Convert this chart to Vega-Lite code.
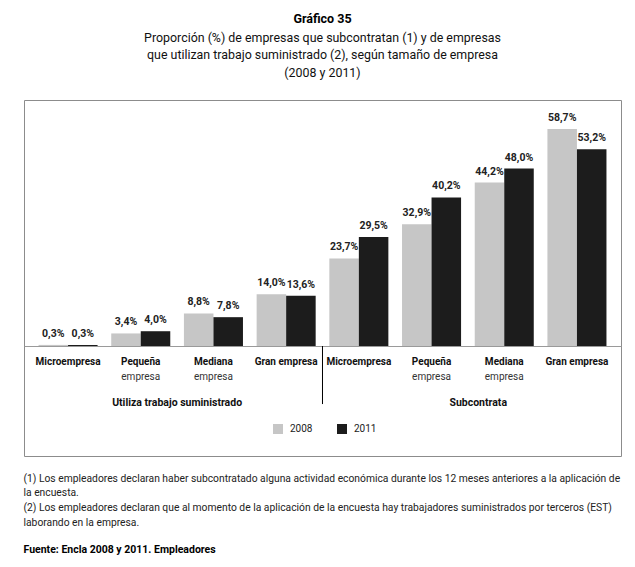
{
  "$schema": "https://vega.github.io/schema/vega-lite/v6.json",
  "padding": {"left": 23, "top": 12, "right": 12, "bottom": 4},
  "background": "white",
  "config": {
    "font": "Roboto, sans-serif",
    "locale": {"number": {"decimal": ",", "thousands": ".", "grouping": [3], "currency": ["$", ""]}},
    "view": {"stroke": "#8c8c8c", "strokeWidth": 1},
    "axis": {"labelFont": "Roboto, sans-serif"},
    "legend": {"labelFont": "Roboto, sans-serif"},
    "title": {"font": "Roboto, sans-serif", "subtitleFont": "Roboto, sans-serif"}
  },
  "title": {
    "text": [
      "(1) Los empleadores declaran haber subcontratado alguna actividad económica durante los 12 meses anteriores a la aplicación de",
      "la encuesta.",
      "(2) Los empleadores declaran que al momento de la aplicación de la encuesta hay trabajadores suministrados por terceros (EST)",
      "laborando en la empresa."
    ],
    "subtitle": "Fuente: Encla 2008 y 2011. Empleadores",
    "orient": "bottom",
    "anchor": "start",
    "offset": 17,
    "fontSize": 10.3,
    "fontWeight": "normal",
    "lineHeight": 14.7,
    "color": "#222222",
    "subtitleFontSize": 10.5,
    "subtitleFontWeight": "bold",
    "subtitleColor": "#000000",
    "subtitlePadding": 17
  },
  "vconcat": [
    {
      "width": 597,
      "height": 356,
      "title": {
        "text": "Gráfico 35",
        "subtitle": [
          "Proporción (%) de empresas que subcontratan (1) y de empresas",
          "que utilizan trabajo suministrado (2), según tamaño de empresa",
          "(2008 y 2011)"
        ],
        "anchor": "middle",
        "fontSize": 12.5,
        "fontWeight": "bold",
        "color": "#000000",
        "subtitleFontSize": 12.4,
        "subtitleLineHeight": 17.5,
        "subtitleColor": "#111111",
        "subtitlePadding": 6,
        "offset": 21
      },
      "data": {
        "values": [
          {"clave": "U1", "grupo": "Utiliza trabajo suministrado", "tamano": "Microempresa", "anio": "2008", "proporcion": 0.003},
          {"clave": "U1", "grupo": "Utiliza trabajo suministrado", "tamano": "Microempresa", "anio": "2011", "proporcion": 0.003},
          {"clave": "U2", "grupo": "Utiliza trabajo suministrado", "tamano": "Pequeña empresa", "anio": "2008", "proporcion": 0.034},
          {"clave": "U2", "grupo": "Utiliza trabajo suministrado", "tamano": "Pequeña empresa", "anio": "2011", "proporcion": 0.040},
          {"clave": "U3", "grupo": "Utiliza trabajo suministrado", "tamano": "Mediana empresa", "anio": "2008", "proporcion": 0.088},
          {"clave": "U3", "grupo": "Utiliza trabajo suministrado", "tamano": "Mediana empresa", "anio": "2011", "proporcion": 0.078},
          {"clave": "U4", "grupo": "Utiliza trabajo suministrado", "tamano": "Gran empresa", "anio": "2008", "proporcion": 0.140},
          {"clave": "U4", "grupo": "Utiliza trabajo suministrado", "tamano": "Gran empresa", "anio": "2011", "proporcion": 0.136},
          {"clave": "S1", "grupo": "Subcontrata", "tamano": "Microempresa", "anio": "2008", "proporcion": 0.237},
          {"clave": "S1", "grupo": "Subcontrata", "tamano": "Microempresa", "anio": "2011", "proporcion": 0.295},
          {"clave": "S2", "grupo": "Subcontrata", "tamano": "Pequeña empresa", "anio": "2008", "proporcion": 0.329},
          {"clave": "S2", "grupo": "Subcontrata", "tamano": "Pequeña empresa", "anio": "2011", "proporcion": 0.402},
          {"clave": "S3", "grupo": "Subcontrata", "tamano": "Mediana empresa", "anio": "2008", "proporcion": 0.442},
          {"clave": "S3", "grupo": "Subcontrata", "tamano": "Mediana empresa", "anio": "2011", "proporcion": 0.480},
          {"clave": "S4", "grupo": "Subcontrata", "tamano": "Gran empresa", "anio": "2008", "proporcion": 0.587},
          {"clave": "S4", "grupo": "Subcontrata", "tamano": "Gran empresa", "anio": "2011", "proporcion": 0.532}
        ]
      },
      "layer": [
        {
          "mark": {"type": "bar"},
          "encoding": {
            "x": {
              "field": "clave",
              "type": "nominal",
              "scale": {"domain": ["U1", "U2", "U3", "U4", "S1", "S2", "S3", "S4"], "paddingInner": 0.188, "paddingOuter": 0.2},
              "axis": {
                "orient": "bottom",
                "offset": -110,
                "title": null,
                "domain": true,
                "domainColor": "#9a9a9a",
                "domainWidth": 1,
                "ticks": false,
                "labelAngle": 0,
                "labelOverlap": false,
                "labelPadding": 10,
                "labelFontSize": 10,
                "labelFontWeight": "bold",
                "labelColor": "#111111",
                "labelExpr": "indexof(['U1','S1'], datum.value) >= 0 ? 'Microempresa' : indexof(['U2','S2'], datum.value) >= 0 ? 'Pequeña' : indexof(['U3','S3'], datum.value) >= 0 ? 'Mediana' : 'Gran empresa'"
              }
            },
            "xOffset": {"field": "anio", "type": "nominal", "scale": {"paddingInner": 0, "paddingOuter": 0}},
            "y": {
              "field": "proporcion",
              "type": "quantitative",
              "scale": {"domain": [-0.2975, 0.6654], "nice": false, "zero": false},
              "axis": null
            },
            "color": {
              "field": "anio",
              "type": "nominal",
              "scale": {"domain": ["2008", "2011"], "range": ["#c6c6c6", "#1c1c1c"]},
              "legend": {
                "orient": "none",
                "legendX": 249,
                "legendY": 324,
                "direction": "horizontal",
                "title": null,
                "symbolType": "square",
                "symbolSize": 100,
                "symbolStrokeWidth": 0,
                "labelFontSize": 10,
                "labelColor": "#222222",
                "labelOffset": 7,
                "columnPadding": 24
              }
            }
          }
        },
        {
          "mark": {"type": "text", "baseline": "alphabetic", "dy": -8, "fontSize": 10.5, "fontWeight": "bold", "color": "#222222"},
          "encoding": {
            "x": {
              "field": "clave",
              "type": "nominal",
              "axis": {
                "orient": "bottom",
                "offset": -110,
                "title": null,
                "domain": false,
                "ticks": false,
                "labelAngle": 0,
                "labelOverlap": false,
                "labelPadding": 25,
                "labelFontSize": 10,
                "labelColor": "#333333",
                "labelExpr": "indexof(['U2','U3','S2','S3'], datum.value) >= 0 ? 'empresa' : ''"
              }
            },
            "xOffset": {"field": "anio", "type": "nominal"},
            "y": {"field": "proporcion", "type": "quantitative", "axis": null},
            "text": {"field": "proporcion", "type": "quantitative", "format": ".1%"}
          }
        },
        {
          "data": {"values": [{"separador": "S1"}]},
          "mark": {"type": "rule", "color": "#000000", "strokeWidth": 1},
          "encoding": {
            "x": {
              "field": "separador",
              "type": "nominal",
              "bandPosition": -0.116,
              "axis": {
                "orient": "bottom",
                "offset": -110,
                "title": null,
                "domain": false,
                "ticks": false,
                "labelAngle": 0,
                "labelOverlap": false,
                "labelPadding": 51,
                "labelOffset": {"condition": {"test": "datum.value === 'S3'", "value": -26}, "value": -36.35},
                "labelFontSize": 10.5,
                "labelFontWeight": "bold",
                "labelColor": "#111111",
                "labelExpr": "datum.value === 'U3' ? 'Utiliza trabajo suministrado' : datum.value === 'S3' ? 'Subcontrata' : ''"
              }
            },
            "y": {"datum": 0, "axis": null},
            "y2": {"datum": -0.157}
          }
        }
      ],
      "resolve": {"axis": {"x": "independent"}}
    }
  ]
}
